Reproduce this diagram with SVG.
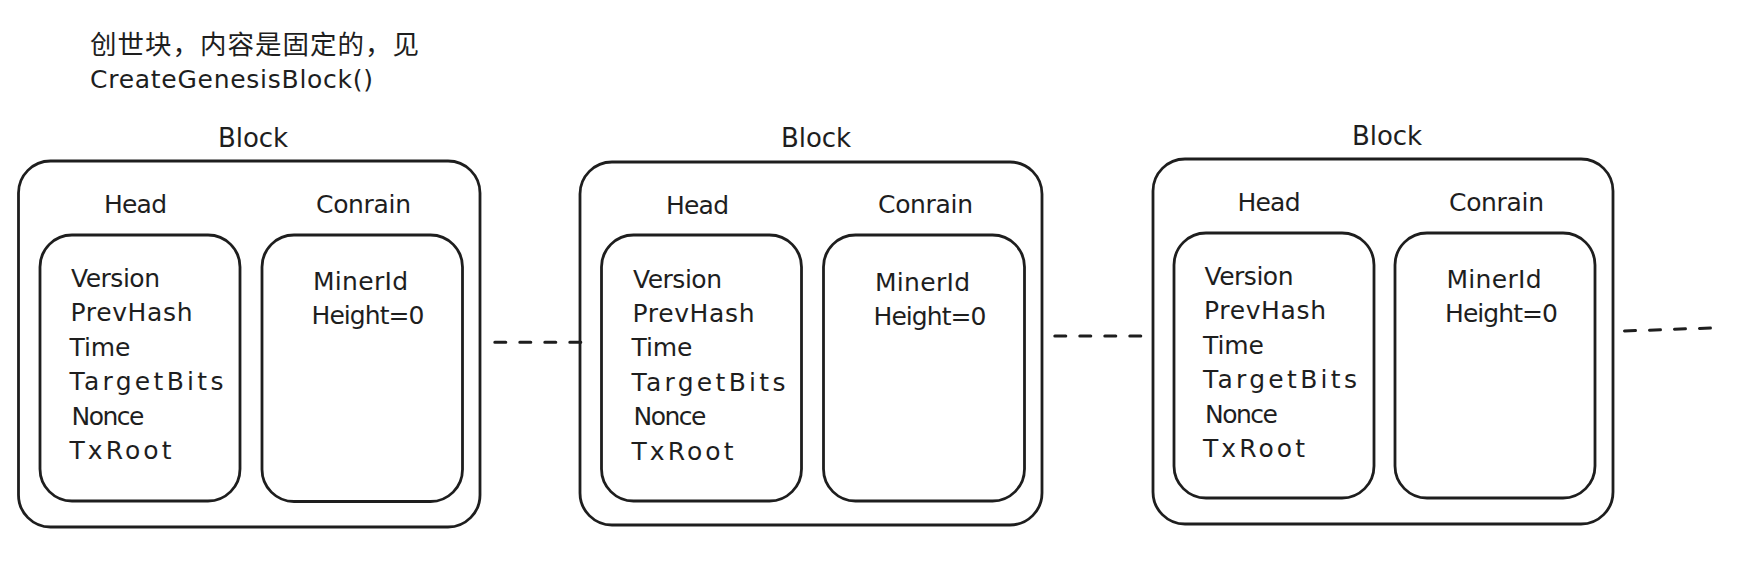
<svg xmlns="http://www.w3.org/2000/svg" width="1739" height="561" viewBox="0 0 1739 561">
<style>
  .box { fill: none; stroke: #1e1e1e; stroke-width: 2.8; }
  .t { font-family: "DejaVu Sans", "Liberation Sans", sans-serif; font-size: 25px; fill: #1e1e1e; }
  .title { font-size: 26px; }
  .cjk { font-family: "Noto Sans CJK SC", "Noto Sans CJK JP", sans-serif; font-size: 26.5px; fill: #1e1e1e; }
  .dash { fill: none; stroke: #1e1e1e; stroke-width: 3; stroke-dasharray: 11 14; stroke-linecap: round; }
</style>
<rect width="1739" height="561" fill="#ffffff"/>

<g id="note">
  <text class="cjk" x="90" y="54" textLength="329" lengthAdjust="spacing">创世块，内容是固定的，见</text>
  <text class="t" x="90" y="88" textLength="283" lengthAdjust="spacing">CreateGenesisBlock()</text>
</g>

<g id="block1">
  <text class="t title" x="218" y="146.5" textLength="70">Block</text>
  <rect class="box" x="18.5" y="161" width="461.5" height="366" rx="32"/>
  <text class="t" x="104" y="213" textLength="63">Head</text>
  <text class="t" x="316" y="212.5" textLength="95">Conrain</text>
  <rect class="box" x="40" y="235" width="200" height="266" rx="32"/>
  <rect class="box" x="262" y="235" width="200.5" height="266.5" rx="32"/>
  <text class="t" x="71" y="287" textLength="89">Version</text>
  <text class="t" x="70.5" y="321.4" textLength="122">PrevHash</text>
  <text class="t" x="69.5" y="355.8" textLength="61">Time</text>
  <text class="t" x="69.5" y="390.2" textLength="154">TargetBits</text>
  <text class="t" x="71.5" y="424.6" textLength="73">Nonce</text>
  <text class="t" x="69.5" y="459" textLength="102">TxRoot</text>
  <text class="t" x="313" y="290" textLength="95">MinerId</text>
  <text class="t" x="311.5" y="324" textLength="113">Height=0</text>
</g>

<g id="block2">
  <text class="t title" x="781" y="147" textLength="70">Block</text>
  <rect class="box" x="580" y="162" width="462" height="363" rx="32"/>
  <text class="t" x="666" y="213.5" textLength="63">Head</text>
  <text class="t" x="878" y="213" textLength="95">Conrain</text>
  <rect class="box" x="601.5" y="235" width="200" height="266" rx="32"/>
  <rect class="box" x="823.5" y="235" width="201" height="266" rx="32"/>
  <text class="t" x="633" y="287.5" textLength="89">Version</text>
  <text class="t" x="632.5" y="321.9" textLength="122">PrevHash</text>
  <text class="t" x="631.5" y="356.3" textLength="61">Time</text>
  <text class="t" x="631.5" y="390.7" textLength="154">TargetBits</text>
  <text class="t" x="633.5" y="425.1" textLength="73">Nonce</text>
  <text class="t" x="631.5" y="459.5" textLength="102">TxRoot</text>
  <text class="t" x="875" y="290.5" textLength="95">MinerId</text>
  <text class="t" x="873.5" y="324.5" textLength="113">Height=0</text>
</g>

<g id="block3">
  <text class="t title" x="1352" y="145" textLength="70">Block</text>
  <rect class="box" x="1153" y="159" width="460" height="365" rx="32"/>
  <text class="t" x="1237.5" y="211" textLength="63">Head</text>
  <text class="t" x="1449" y="210.5" textLength="95">Conrain</text>
  <rect class="box" x="1174" y="233" width="200" height="265" rx="32"/>
  <rect class="box" x="1395" y="233" width="200" height="265" rx="32"/>
  <text class="t" x="1204.5" y="285" textLength="89">Version</text>
  <text class="t" x="1204" y="319.4" textLength="122">PrevHash</text>
  <text class="t" x="1203" y="353.8" textLength="61">Time</text>
  <text class="t" x="1203" y="388.2" textLength="154">TargetBits</text>
  <text class="t" x="1205" y="422.6" textLength="73">Nonce</text>
  <text class="t" x="1203" y="457" textLength="102">TxRoot</text>
  <text class="t" x="1446.5" y="288" textLength="95">MinerId</text>
  <text class="t" x="1445" y="322" textLength="113">Height=0</text>
</g>

<g id="connectors">
  <path class="dash" d="M494.8 342.3 L580.8 342.3"/>
  <path class="dash" d="M1054.8 336 L1140.8 336"/>
  <path class="dash" d="M1624.5 331 L1710.5 328"/>
</g>
</svg>
